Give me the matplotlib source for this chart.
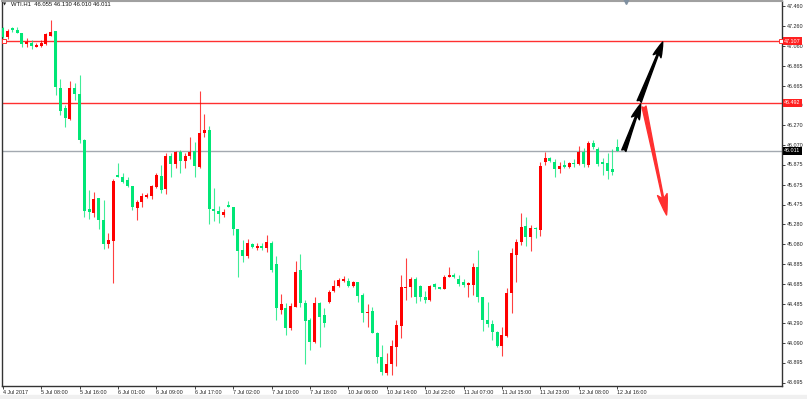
import matplotlib
matplotlib.use('Agg')
import matplotlib.pyplot as plt
from matplotlib.patches import FancyArrowPatch, Rectangle

plt.rcParams['font.family'] = ['Liberation Sans', 'DejaVu Sans']

# WTI H1 candles
opens = [47.24, 47.15, 47.23, 47.22, 47.19, 47.08, 47.09, 47.053, 47.063, 47.08,
         47.163, 47.21, 46.637, 46.437, 46.33, 46.637, 46.58, 46.12, 45.43, 45.393,
         45.537, 45.32, 45.077, 45.113, 45.77, 45.753, 45.72, 45.663, 45.443, 45.503,
         45.547, 45.563, 45.647, 45.763, 45.63, 45.96, 45.88, 46.003, 45.913, 45.963,
         46.013, 45.853, 46.193, 46.22, 45.43, 45.41, 45.37, 45.463, 45.453, 45.23,
         45.02, 44.96, 45.08, 45.045, 45.05, 45.037, 45.09, 44.88, 44.42, 44.44,
         44.24, 44.45, 44.82, 44.49, 44.32, 44.10, 44.49, 44.37, 44.50, 44.61,
         44.66, 44.71, 44.71, 44.66, 44.70, 44.57, 44.39, 44.41, 44.19, 43.95,
         43.79, 43.88, 44.05, 44.26, 44.64, 44.65, 44.73, 44.66, 44.55, 44.52,
         44.68, 44.65, 44.63, 44.75, 44.77, 44.73, 44.70, 44.67, 44.67, 44.85,
         44.55, 44.32, 44.28, 44.20, 44.06, 44.16, 44.59, 44.97, 45.10, 45.26,
         45.15, 45.24, 45.22, 45.90, 45.94, 45.90, 45.83, 45.87, 45.85, 45.89,
         45.88, 46.00, 45.87, 46.09, 46.03, 45.90, 45.89, 45.83, 46.055]
highs = [47.25, 47.23, 47.25, 47.25, 47.19, 47.14, 47.12, 47.087, 47.12, 47.187,
         47.32, 47.21, 46.727, 46.47, 46.71, 46.687, 46.77, 46.13, 45.62, 45.603,
         45.537, 45.52, 45.193, 45.727, 45.887, 45.793, 45.753, 45.663, 45.52, 45.587,
         45.587, 45.67, 45.793, 45.87, 45.993, 45.987, 46.013, 46.02, 45.987, 46.147,
         46.103, 46.613, 46.38, 46.26, 45.637, 45.46, 45.427, 45.51, 45.453, 45.23,
         45.12, 45.127, 45.087, 45.093, 45.087, 45.17, 45.11, 44.96, 44.58, 44.49,
         44.49, 44.91, 44.98, 44.52, 44.34, 44.55, 44.50, 44.44, 44.62, 44.72,
         44.74, 44.76, 44.74, 44.71, 44.70, 44.59, 44.48, 44.45, 44.20, 44.07,
         43.99, 44.12, 44.32, 44.77, 44.94, 44.75, 44.75, 44.67, 44.61, 44.67,
         44.69, 44.65, 44.77, 44.85, 44.79, 44.77, 44.73, 44.70, 44.89, 45.02,
         44.55, 44.50, 44.32, 44.21, 44.25, 44.64, 45.04, 45.13, 45.39, 45.35,
         45.27, 45.25, 45.90, 46.00, 45.95, 45.93, 45.90, 45.92, 45.90, 45.93,
         46.06, 46.04, 46.11, 46.12, 46.05, 45.94, 45.99, 46.03, 46.130]
lows = [47.14, 47.13, 47.20, 47.19, 47.05, 47.05, 47.03, 47.047, 47.053, 47.07,
        47.163, 46.57, 46.37, 46.247, 46.32, 46.52, 46.093, 45.347, 45.327, 45.347,
        45.23, 45.027, 45.037, 44.69, 45.747, 45.687, 45.647, 45.42, 45.32, 45.447,
        45.537, 45.527, 45.637, 45.593, 45.577, 45.753, 45.837, 45.787, 45.837, 45.927,
        45.753, 45.84, 46.153, 45.277, 45.313, 45.293, 45.347, 45.447, 45.17, 44.75,
        44.90, 44.943, 45.037, 45.02, 45.02, 45.003, 44.80, 44.32, 44.38, 44.17,
        44.22, 44.45, 44.45, 43.88, 44.02, 44.09, 44.05, 44.25, 44.49, 44.60,
        44.65, 44.70, 44.65, 44.65, 44.50, 44.30, 44.25, 44.19, 43.89, 43.77,
        43.77, 43.77, 43.86, 44.14, 44.52, 44.55, 44.49, 44.51, 44.49, 44.51,
        44.63, 44.63, 44.63, 44.75, 44.74, 44.66, 44.65, 44.55, 44.57, 44.50,
        44.21, 44.25, 44.12, 44.05, 43.96, 44.15, 44.39, 44.70, 45.07, 45.06,
        45.01, 45.14, 45.16, 45.87, 45.90, 45.75, 45.79, 45.84, 45.84, 45.85,
        45.87, 45.85, 45.85, 46.03, 45.86, 45.77, 45.73, 45.77, 46.010]
closes = [47.15, 47.21, 47.225, 47.19, 47.08, 47.10, 47.06, 47.07, 47.087, 47.18,
          47.20, 46.647, 46.413, 46.337, 46.637, 46.58, 46.12, 45.413, 45.403, 45.527,
          45.32, 45.08, 45.12, 45.713, 45.753, 45.703, 45.663, 45.453, 45.497, 45.563,
          45.57, 45.66, 45.77, 45.62, 45.96, 45.877, 45.997, 45.913, 45.96, 45.997,
          45.86, 46.187, 46.22, 45.43, 45.413, 45.38, 45.403, 45.453, 45.227, 45.013,
          44.96, 45.087, 45.047, 45.05, 45.045, 45.097, 44.82, 44.44, 44.48, 44.24,
          44.46, 44.80, 44.49, 44.31, 44.10, 44.49, 44.35, 44.29, 44.60, 44.66,
          44.72, 44.73, 44.66, 44.70, 44.56, 44.39, 44.40, 44.19, 43.95, 43.80,
          43.88, 44.06, 44.27, 44.65, 44.65, 44.73, 44.55, 44.55, 44.52, 44.66,
          44.65, 44.63, 44.75, 44.77, 44.75, 44.68, 44.67, 44.69, 44.85, 44.55,
          44.32, 44.28, 44.20, 44.06, 44.17, 44.59, 44.99, 45.10, 45.25, 45.15,
          45.24, 45.23, 45.86, 45.94, 45.91, 45.83, 45.86, 45.85, 45.89, 45.88,
          46.00, 45.88, 46.09, 46.05, 45.88, 45.88, 45.81, 45.80, 46.011]

time_labels = ['4 Jul 2017', '5 Jul 08:00', '5 Jul 16:00', '6 Jul 01:00', '6 Jul 09:00',
               '6 Jul 17:00', '7 Jul 02:00', '7 Jul 10:00', '7 Jul 18:00', '10 Jul 06:00',
               '10 Jul 14:00', '10 Jul 22:00', '11 Jul 07:00', '11 Jul 15:00',
               '11 Jul 23:00', '12 Jul 08:00', '12 Jul 16:00']
price_ticks = [47.460, 47.260, 47.060, 46.865, 46.665, 46.470, 46.270, 46.070, 45.875,
               45.675, 45.475, 45.280, 45.080, 44.885, 44.685, 44.485, 44.290, 44.090,
               43.895, 43.695]

levels = [47.107, 46.492]   # red horizontal lines
last_price = 46.011
header = 'WTI.H1  46.055 46.130 46.010 46.011'

# hand-drawn arrows: (tail x, tail price, tip x, tip price)
black_arrows = [(129.4, 46.013, 132.9, 46.48), (132.6, 46.505, 137.5, 47.10)]
red_arrow = (133.6, 46.455, 138.3, 45.37)

UP = '#ff0000'
DOWN = '#00e676'

fig = plt.figure(figsize=(8.07, 3.99), dpi=100)
ax = fig.add_axes([2 / 807, 13.5 / 399, 780 / 807, 385 / 399])

n = len(opens)
xs = list(range(n))
cols = [UP if c >= o else DOWN for o, c in zip(opens, closes)]

ax.vlines(xs, lows, highs, colors=cols, linewidth=0.8, alpha=0.75, zorder=3)
bottoms = [min(o, c) for o, c in zip(opens, closes)]
heights = [max(abs(c - o), 0.012) for o, c in zip(opens, closes)]
ax.bar(xs, heights, bottom=bottoms, width=0.62, color=cols, linewidth=0, zorder=4)

for lv in levels:
    ax.axhline(lv, color='#ff3030', linewidth=1, zorder=2)
ax.axhline(last_price, color='#a3a9b0', linewidth=1, zorder=2)

# small squares at the ends of the upper level line
ax.plot([0.002, 0.999], [levels[0], levels[0]], 's', ms=2.5, mfc='white', mec='#ff3030',
        mew=0.7, transform=ax.get_yaxis_transform(), clip_on=False, zorder=6)

for a in black_arrows:
    ax.add_patch(FancyArrowPatch((a[0], a[1]), (a[2], a[3]),
                                 arrowstyle='fancy,head_length=11,head_width=6,tail_width=3.2',
                                 mutation_scale=1, color='black', shrinkA=0, shrinkB=0, zorder=7))
ax.add_patch(FancyArrowPatch((red_arrow[0], red_arrow[1]), (red_arrow[2], red_arrow[3]),
                             arrowstyle='fancy,head_length=15,head_width=7,tail_width=3',
                             mutation_scale=1, color='#ff3030', shrinkA=0, shrinkB=0, zorder=7))

ax.set_xlim(-0.146, 162.35)
ax.set_ylim(43.665, 47.515)

ax.set_xticks(range(0, n, 8))
ax.set_xticklabels(time_labels, fontsize=3.9, ha='left')
ax.tick_params(axis='x', direction='out', length=2, width=0.6, pad=1.5, colors='#222222')
ax.yaxis.tick_right()
ax.set_yticks(price_ticks)
ax.set_yticklabels(['%.3f' % v for v in price_ticks], fontsize=3.9)
ax.tick_params(axis='y', direction='out', length=2, width=0.6, pad=1.5, colors='#222222')

for side in ['left', 'bottom', 'right']:
    ax.spines[side].set_color('#333333')
    ax.spines[side].set_linewidth(1)
ax.spines['top'].set_color('#a0a0a0')
ax.spines['top'].set_linewidth(1.5)

# price tags on the right scale
ytr = ax.get_yaxis_transform()
for lv in levels:
    ax.text(1.0025, lv, '%.3f' % lv, transform=ytr, fontsize=3.9, color='white', va='center',
            ha='left', clip_on=False, zorder=8,
            bbox=dict(boxstyle='square,pad=0.25', fc='#ff2020', ec='none'))
ax.text(1.0025, last_price, '%.3f' % last_price, transform=ytr, fontsize=3.9, color='white',
        va='center', ha='left', clip_on=False, zorder=8,
        bbox=dict(boxstyle='square,pad=0.25', fc='black', ec='none'))

# header and chart-shift marker
fig.text(2.5 / 807, 1 - 4.5 / 399, '\u25bc', fontsize=3, color='#222222', va='center',
         family='DejaVu Sans')
fig.text(11 / 807, 1 - 4.5 / 399, header, fontsize=4.2, color='#111111', va='center')
ax.plot([129.9], [1.0], 'v', ms=4, color='#8090a0', transform=ax.get_xaxis_transform(),
        clip_on=False, zorder=8)

fig.patches.append(Rectangle((0, 0), 1, 4 / 399, transform=fig.transFigure,
                             color='#f0f0f0', zorder=0))

fig.savefig('out.png', dpi=100)
